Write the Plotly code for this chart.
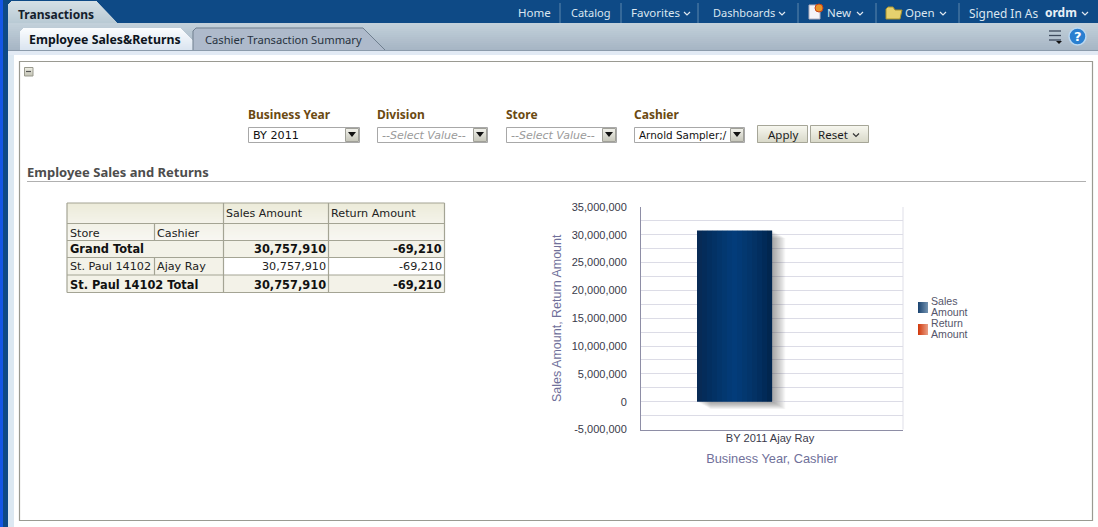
import plotly.graph_objects as go

# ---- data ----
categories = ["BY 2011 Ajay Ray"]
sales_amount = [30757910]
return_amount = [-69210]
series_names = ["Sales Amount", "Return Amount"]
y_ticks = [-5000000, 0, 5000000, 10000000, 15000000, 20000000, 25000000, 30000000, 35000000]
y_tick_labels = ["-5,000,000", "0", "5,000,000", "10,000,000", "15,000,000", "20,000,000",
                 "25,000,000", "30,000,000", "35,000,000"]
table_columns = ["Sales Amount", "Return Amount"]
table_row_heads = ["Store", "Cashier"]
grand_total = ["Grand Total", "30,757,910", "-69,210"]
detail_row = ["St. Paul 14102", "Ajay Ray", "30,757,910", "-69,210"]
store_total = ["St. Paul 14102 Total", "30,757,910", "-69,210"]
nav_items = ["Home", "Catalog", "Favorites", "Dashboards", "New", "Open", "Signed In As", "ordm"]
prompts = ["Business Year", "Division", "Store", "Cashier"]
prompt_values = ["BY 2011", "--Select Value--", "--Select Value--", "Arnold Sampler;/"]

W, H = 1098, 527
UI = "DejaVu Sans"
NS = "Noto Sans"
CH = "Liberation Sans"
shapes, notes = [], []
X = lambda x: x / W
Y = lambda y: 1 - y / H


def hexrgb(c):
    c = c.lstrip("#")
    return [int(c[i:i + 2], 16) for i in (0, 2, 4)]


def mix(a, b, t):
    a, b = hexrgb(a), hexrgb(b)
    return "rgb(%d,%d,%d)" % tuple(round(a[i] + (b[i] - a[i]) * t) for i in range(3))


def rect(x0, y0, x1, y1, fill=None, line=None, lw=1):
    shapes.append(dict(type="rect", xref="paper", yref="paper", x0=X(x0), x1=X(x1), y0=Y(y0), y1=Y(y1),
                       fillcolor=fill or "rgba(0,0,0,0)", layer="below",
                       line=dict(color=line or "rgba(0,0,0,0)", width=lw if line else 0)))


def vgrad(x0, y0, x1, y1, c0, c1, step=1):
    y = y0
    while y < y1:
        t = (y - y0) / max(1, y1 - y0 - 1)
        rect(x0, y, x1, min(y + step, y1), mix(c0, c1, t))
        y += step


def hgrad(x0, y0, x1, y1, c0, c1, step=1):
    x = x0
    while x < x1:
        t = (x - x0) / max(1, x1 - x0 - 1)
        rect(x, y0, min(x + step, x1), y1, mix(c0, c1, t))
        x += step


def hline(x0, x1, y, color, lw=1):
    shapes.append(dict(type="line", xref="paper", yref="paper", x0=X(x0), x1=X(x1), y0=Y(y), y1=Y(y),
                       layer="below", line=dict(color=color, width=lw)))


def vline(x, y0, y1, color, lw=1):
    shapes.append(dict(type="line", xref="paper", yref="paper", x0=X(x), x1=X(x), y0=Y(y0), y1=Y(y1),
                       layer="below", line=dict(color=color, width=lw)))


def poly(pts, fill=None, line=None, lw=1):
    p = "M" + " L".join("%.5f,%.5f" % (X(a), Y(b)) for a, b in pts)
    shapes.append(dict(type="path", xref="paper", yref="paper", path=p + (" Z" if fill else ""),
                       fillcolor=fill or "rgba(0,0,0,0)", layer="below",
                       line=dict(color=line or "rgba(0,0,0,0)", width=lw if line else 0)))


def text(x, y, s, size=12, color="#222", bold=False, anchor="left", font=UI, italic=False, angle=0):
    if bold:
        s = "<b>%s</b>" % s
    if italic:
        s = "<i>%s</i>" % s
    notes.append(dict(x=X(x), y=Y(y), xref="paper", yref="paper", text=s, showarrow=False, xanchor=anchor,
                      yanchor="middle", textangle=angle, borderpad=0, borderwidth=0,
                      font=dict(family=font, size=size, color=color)))


def chevron(x, y, color="#dfe8f0"):
    poly([(x - 3, y - 1.5), (x, y + 1.5), (x + 3, y - 1.5)], None, color, 1.2)


# ---- page frame ----
rect(0, 0, 3, H, "#1557e6")
rect(3, 0, 8, H, "#0e4a86")
rect(3, 0, W, 23, "#0e4a86")
vgrad(8, 23, W, 50, "#c2d0da", "#a6b5c4", 2)
hline(8, W, 50.5, "#8c9bab")
rect(8, 51, W, 55, "#e2eaf4")
rect(8, 55, 14, H, "#dce8f2")
rect(14, 55, W, H, "#ffffff")
rect(19.5, 61.5, 1092.5, 520.5, "#ffffff", "#9a9a92", 1.2)

# main tab with slanted right edge
for i in range(22):
    yy = 1 + i
    rect(8 if i > 2 else 11 - i, yy, 97 + i * 0.95, yy + 1, mix("#d4dfe5", "#b9cad4", i / 21))

# sub tabs
for i in range(22):
    yy = 28 + i
    rect(20 if i > 2 else 23 - i, yy, 181 + i, yy + 1, mix("#fafcfe", "#dbe5f0", i / 21))
poly([(193, 50), (193, 31), (196, 28), (363, 28), (385, 50), (193, 50)], "#aebacb")
poly([(193, 50), (193, 31), (196, 28), (363, 28), (385, 50)], None, "#6f7f8f", 1)

text(18, 14.5, "Transactions", 12, "#14202c", True, font=NS)
text(29, 39.5, "Employee Sales&amp;Returns", 12.3, "#0c1420", True, font=NS)
text(205, 39.5, "Cashier Transaction Summary", 11.2, "#27323e", font=NS)

# nav bar
nav_x = [518, 571, 631, 713, 827, 905, 969]
nav_size = [11.5, 11, 11.5, 11, 11.5, 11.5, 11.9]
for xx, s, fs in zip(nav_x, nav_items[:7], nav_size):
    text(xx, 13, s, fs, "#dbe6f0", font=NS)
text(1045, 13, nav_items[7], 12, "#e8f0f6", True, font=NS)
for xx in (560, 621, 698, 798, 876, 959):
    vline(xx, 3, 23, "#5d87ad")
for xx in (687, 782, 860, 943, 1085):
    chevron(xx, 13.5)
# new + open icons
rect(809, 5, 820, 19, "#f4f4f8", "#b0b0c0", 1)
shapes.append(dict(type="circle", xref="paper", yref="paper", x0=X(815), x1=X(823), y0=Y(12), y1=Y(4),
                   fillcolor="#e8962a", layer="below", line=dict(color="#c8401a", width=1)))
poly([(886, 9), (886, 19), (900, 19), (902, 10), (895, 10), (893, 7), (888, 7), (886, 9)], "#e6d16e", "#a8902c", 1)
# toolbar icons
for yy in (31, 35.5, 40):
    hline(1049, 1061, yy, "#3d4a5c", 1.3)
poly([(1056, 41), (1062, 41), (1059, 44), (1056, 41)], "#111111")
shapes.append(dict(type="circle", xref="paper", yref="paper", x0=X(1069), x1=X(1086), y0=Y(45), y1=Y(28),
                   fillcolor="#2a7fd0", layer="below", line=dict(color="#bcd8f0", width=1.5)))
text(1077.5, 36.5, "?", 13, "#ffffff", True, "center")

# collapse icon
vgrad(24, 67, 33, 76, "#f0f0e6", "#c4c4b6", 1)
rect(24.5, 67.5, 33, 76, None, "#9a9a8e", 1)
hline(26, 31, 71.5, "#555555", 1.2)

# ---- prompts ----
px = [248, 377, 506, 634]
pw = [112, 111, 111, 111]
for i, (xx, ww) in enumerate(zip(px, pw)):
    text(xx, 114.5, prompts[i], 12, "#6b4a12", True, font=NS)
    rect(xx + 0.5, 127.5, xx + ww - 0.5, 142.5, "#ffffff", "#a8a8a8", 1)
    vgrad(xx + ww - 15, 128, xx + ww - 2, 141, "#f2f2ec", "#c8c8bc", 1)
    rect(xx + ww - 14.5, 128.5, xx + ww - 1.5, 141.5, None, "#a0a098", 1)
    c = xx + ww - 8
    poly([(c - 4, 132), (c + 4, 132), (c, 137), (c - 4, 132)], "#111111")
    ph = i in (1, 2)
    size = 10.4 if i == 3 else (11 if ph else 11.2)
    text(xx + 5, 135.5, prompt_values[i], size, "#9a9a9a" if ph else "#111111", italic=ph)
for x0, x1, label, lx in ((757, 808, "Apply", 782.5), (810, 869, "Reset", 832.5)):
    vgrad(x0, 125, x1, 143, "#f8f8f0", "#d8d8c8", 1)
    rect(x0 + 0.5, 125.5, x1 - 0.5, 142.5, None, "#a6a698", 1)
    text(lx, 134.5, label, 11.5, "#1c1c1c", anchor="center", font=NS)
chevron(856, 135, "#333333")

# ---- section heading ----
text(27, 172, "Employee Sales and Returns", 13, "#4d4d4d", True, font=NS)
hline(27, 1086, 181.5, "#b0b0b0", 1)

# ---- table ----
cx = [67, 154.5, 223.5, 328.5, 444.5]
ry = [203, 223.5, 240.5, 257.5, 275, 292.5]
border = "#a4a494"
vgrad(cx[0], ry[0], cx[4], ry[1], "#ecebd9", "#f4f3ea", 1)
vgrad(cx[0], ry[1], cx[4], ry[2], "#eeeddf", "#f6f5ee", 1)
rect(cx[0], ry[2], cx[4], ry[3], "#f3f2e8")
rect(cx[0], ry[3], cx[2], ry[4], "#f3f2e8")
rect(cx[2], ry[3], cx[4], ry[4], "#ffffff")
rect(cx[0], ry[4], cx[4], ry[5], "#f3f2e8")
for yy in ry:
    hline(cx[0], cx[4], yy, border, 1.2)
for xx in (cx[0], cx[2], cx[3], cx[4]):
    vline(xx, ry[0], ry[5], border, 1.2)
vline(cx[1], ry[1], ry[2], border, 1.2)
vline(cx[1], ry[3], ry[4], border, 1.2)

T = "#222222"
TS = 11.2
BS = 11.4
text(cx[2] + 2.5, 214, table_columns[0], 11, T)
text(cx[3] + 2.5, 214, table_columns[1], TS, T)
text(cx[0] + 3, 233, table_row_heads[0], TS, T)
text(cx[1] + 2.5, 233, table_row_heads[1], TS, T)
text(cx[0] + 3, 249.5, grand_total[0], BS, "#111", True)
text(cx[3] - 3, 249.5, grand_total[1], BS, "#111", True, "right")
text(cx[4] - 3, 249.5, grand_total[2], BS, "#111", True, "right")
text(cx[0] + 3, 266.5, detail_row[0], TS, T)
text(cx[1] + 2.5, 266.5, detail_row[1], TS, T)
text(cx[3] - 3, 266.5, detail_row[2], TS, T, anchor="right")
text(cx[4] - 3, 266.5, detail_row[3], TS, T, anchor="right")
text(cx[0] + 3, 284.5, store_total[0], BS, "#111", True)
text(cx[3] - 3, 284.5, store_total[1], BS, "#111", True, "right")
text(cx[4] - 3, 284.5, store_total[2], BS, "#111", True, "right")

# ---- chart ----
fig = go.Figure()
BAR_W = 75 / 262
# soft shadow: same value, shifted down and right
for k in range(12, 0, -1):
    fig.add_trace(go.Bar(x=categories, y=sales_amount, base=[-110000 * k], offset=-BAR_W + k * 1.1 / 262,
                         width=BAR_W, marker=dict(color="rgba(70,70,85,0.05)", line=dict(width=0)),
                         showlegend=False, hoverinfo="skip"))
# sales bar: vertical strips give the metallic gradient
grad = ["#072a55", "#042c5a", "#032f60", "#033265", "#03356b", "#033870", "#033a76", "#033c7a",
        "#033a76", "#033870", "#03356b", "#033265", "#022e5f", "#012a58", "#01264f"]
sw = BAR_W / len(grad)
for i, c in enumerate(grad):
    fig.add_trace(go.Bar(x=categories, y=sales_amount, offset=-BAR_W + i * sw, width=sw * 1.03,
                         marker=dict(color=c, line=dict(width=0)), name=series_names[0], showlegend=False))
fig.add_trace(go.Bar(x=categories, y=return_amount, offset=0, width=BAR_W * 0.16,
                     marker=dict(color="rgba(255,255,255,0.9)", line=dict(width=0)),
                     name=series_names[1], showlegend=False))

# right edge of plot
vline(903, 207, 429.5, "#dfdfe8", 1)

# legend
hgrad(918, 302, 928, 313, "#1e4773", "#6f8fae")
hgrad(918, 324, 928, 335, "#d23c10", "#e89a80")
text(931, 300.8, "Sales", 10.6, "#55556a", font=CH)
text(931, 311.8, "Amount", 10.6, "#55556a", font=CH)
text(931, 322.6, "Return", 10.6, "#55556a", font=CH)
text(931, 333.6, "Amount", 10.6, "#55556a", font=CH)

fig.update_layout(
    width=W, height=H, margin=dict(l=0, r=0, t=0, b=0, pad=0, autoexpand=False), autosize=False,
    paper_bgcolor="white", plot_bgcolor="rgba(0,0,0,0)",
    barmode="overlay", showlegend=False, shapes=shapes, annotations=notes,
    xaxis=dict(domain=[X(641), X(903)], type="category", range=[-0.5, 0.5], showline=True, linecolor="#8e8ea6",
               linewidth=1, ticks="", showgrid=False, ticklabelstandoff=-2, ticklabelshift=-2,
               tickfont=dict(family=CH, size=11.1, color="#3a3a4a"),
               title=dict(text="Business Year, Cashier", standoff=11, font=dict(family=CH, size=12.8, color="#70709a"))),
    yaxis=dict(domain=[Y(429.5), Y(207)], range=[-5000000, 35000000], tickmode="array", tickvals=y_ticks,
               ticktext=y_tick_labels, showline=True, linecolor="#8e8ea6", linewidth=1, showgrid=True,
               gridcolor="#dcdce6", gridwidth=1, zeroline=False, ticks="outside", ticklen=11,
               tickcolor="rgba(0,0,0,0)", tickfont=dict(family=CH, size=11, color="#3a3a4a"),
               minor=dict(dtick=2500000, showgrid=True, gridcolor="#dcdce6", gridwidth=1),
               title=dict(text="Sales Amount, Return Amount", standoff=7,
                          font=dict(family=CH, size=12.5, color="#70709a"))),
)
fig.write_html("out.html", config=dict(displayModeBar=False),
               post_script="document.body.style.margin='0';")
